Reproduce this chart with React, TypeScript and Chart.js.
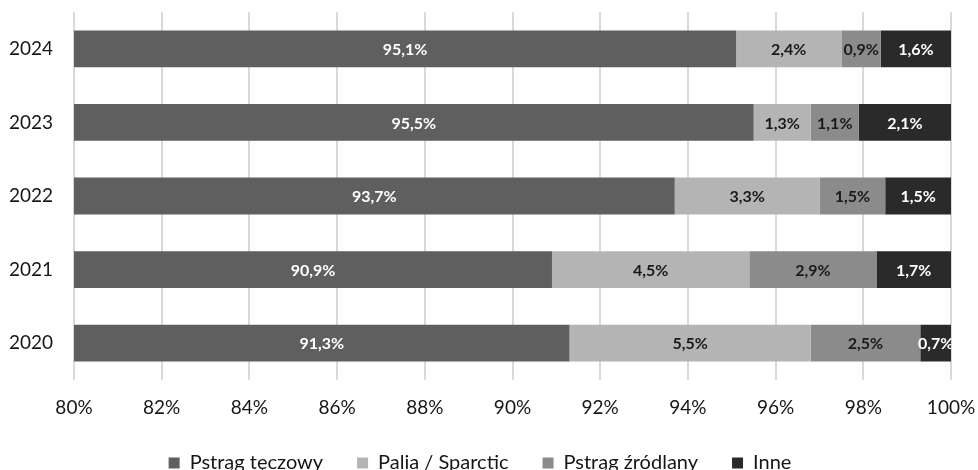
import React, { useEffect, useRef } from "react";
import { Chart, registerables } from "chart.js";

Chart.register(...registerables);

const years = ["2024", "2023", "2022", "2021", "2020"];
const seriesNames = ["Pstrąg tęczowy", "Palia / Sparctic", "Pstrąg źródlany", "Inne"];
const rainbowTrout = [95.1, 95.5, 93.7, 90.9, 91.3];
const palia = [2.4, 1.3, 3.3, 4.5, 5.5];
const brookTrout = [0.9, 1.1, 1.5, 2.9, 2.5];
const other = [1.6, 2.1, 1.5, 1.7, 0.7];
const seriesColors = ["#5f5f5f", "#b4b4b4", "#8b8b8b", "#2a2a2a"];
const labelColors = ["#ffffff", "#1a1a1a", "#1a1a1a", "#ffffff"];
const xMin = 80;
const xMax = 100;
const xStep = 2;

const FONT = "Lato, 'Open Sans', sans-serif";

const fmt = (v: number) => v.toFixed(1).replace(".", ",") + "%";

const labelPlugin = {
  id: "segLabels",
  afterDatasetsDraw(chart: any) {
    const ctx = chart.ctx;
    const area = chart.chartArea;
    ctx.save();
    ctx.beginPath();
    ctx.rect(area.left, area.top, area.right - area.left, area.bottom - area.top);
    ctx.clip();
    ctx.font = `bold 16px ${FONT}`;
    ctx.textAlign = "center";
    ctx.textBaseline = "middle";
    chart.data.datasets.forEach((ds: any, di: number) => {
      const meta = chart.getDatasetMeta(di);
      meta.data.forEach((el: any, i: number) => {
        const p = el.getProps(["x", "y", "base"], true);
        const lo = Math.max(Math.min(p.x, p.base), area.left);
        const hi = Math.min(Math.max(p.x, p.base), area.right);
        if (hi <= lo) return;
        ctx.fillStyle = labelColors[di];
        ctx.fillText(fmt(ds.data[i]), (lo + hi) / 2, p.y + 1);
      });
    });
    ctx.restore();
  },
};

export default function App() {
  const ref = useRef<HTMLCanvasElement | null>(null);
  useEffect(() => {
    if (!ref.current) return;
    const values = [rainbowTrout, palia, brookTrout, other];
    const chart = new Chart(ref.current, {
      type: "bar",
      data: {
        labels: years,
        datasets: values.map((d, i) => ({
          label: seriesNames[i],
          data: d,
          backgroundColor: seriesColors[i],
          borderWidth: 0,
          categoryPercentage: 1,
          barPercentage: 0.5,
        })),
      },
      options: {
        indexAxis: "y",
        responsive: false,
        animation: false,
        layout: { padding: { left: 9, right: 27, top: 12, bottom: -13 } },
        scales: {
          x: {
            stacked: true,
            min: xMin,
            max: xMax,
            ticks: {
              stepSize: xStep,
              callback: (v: any) => v + "%",
              font: { family: FONT, size: 19 },
              color: "#161616",
              padding: 16,
            },
            grid: { color: "#d9d9d9", lineWidth: 2, drawTicks: false },
            border: { display: false },
            afterFit: (s: any) => {
              s.height = 39;
              s.paddingLeft = 0;
              s.paddingRight = 0;
            },
          },
          y: {
            stacked: true,
            ticks: {
              font: { family: FONT, size: 19 },
              color: "#161616",
              padding: 21,
            },
            grid: { display: false, drawTicks: false },
            border: { display: false },
            afterFit: (s: any) => {
              s.width = 65;
              s.paddingTop = 0;
              s.paddingBottom = 0;
            },
          },
        },
        plugins: {
          legend: {
            position: "bottom",
            labels: {
              boxWidth: 11,
              boxHeight: 11,
              padding: 34,
              font: { family: FONT, size: 20 },
              color: "#161616",
            },
          },
          tooltip: { enabled: false },
        },
      },
      plugins: [labelPlugin],
    } as any);
    return () => chart.destroy();
  }, []);
  return (
    <div style={{ position: "fixed", left: 0, top: 0, width: 978, height: 470, background: "#fff" }}>
      <canvas ref={ref} width={978} height={470} style={{ display: "block" }} />
    </div>
  );
}
